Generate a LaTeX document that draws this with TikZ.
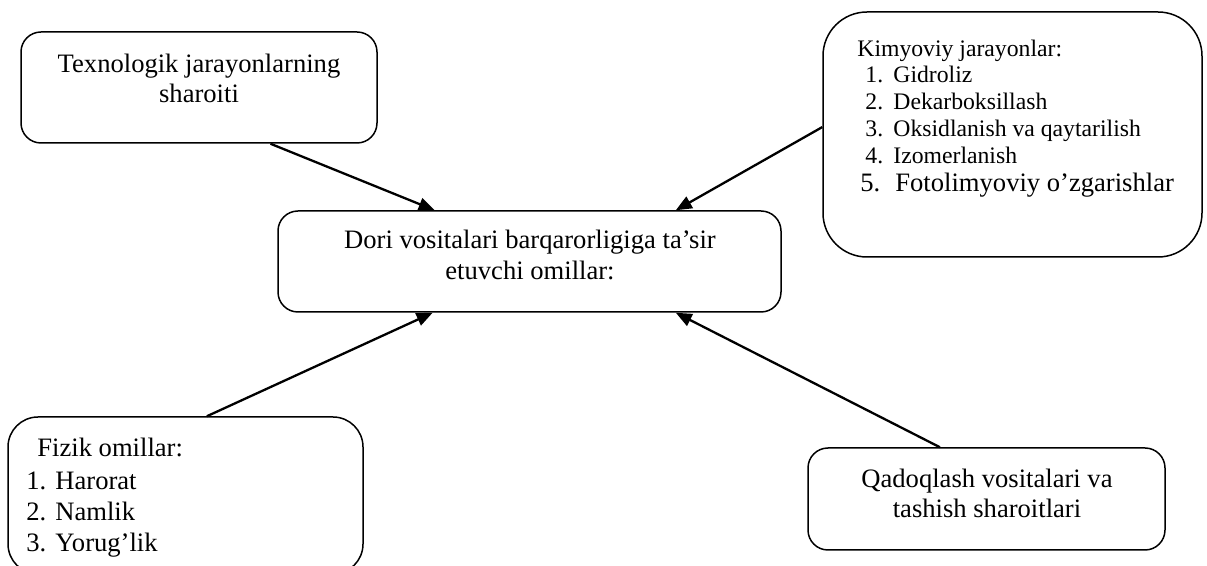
\documentclass[tikz,border=0pt]{standalone}
\usepackage{fontspec}
\setmainfont{Liberation Serif}
\usetikzlibrary{arrows.meta,calc,fit}
\begin{document}
\begin{tikzpicture}[x=0.5pt,y=-0.5pt,
 box/.style={draw, line width=0.75pt, inner sep=0pt},
 lbl/.style={anchor=base, inner sep=0pt, font=\fontsize{13.3}{16}\selectfont},
 lblw/.style={anchor=base west, inner sep=0pt, font=\fontsize{13.3}{16}\selectfont},
 sml/.style={anchor=base west, inner sep=0pt, font=\fontsize{11.85}{14}\selectfont},
 arr/.style={-{Triangle[length=8pt,width=6.5pt]}, line width=1.15pt}]
\useasboundingbox (0,0) rectangle (1207,566);
\clip (0,0) rectangle (1207,566);

% boxes
\node[box, rounded corners=10pt, fit={(21,32) (377,143)}] (tex) {};
\node[box, rounded corners=22pt, fit={(823,12) (1202,257)}] (kim) {};
\node[box, rounded corners=10pt, fit={(278,211) (781,312)}] (dori) {};
\node[box, rounded corners=15pt, fit={(8,417) (363,574)}] (fiz) {};
\node[box, rounded corners=10pt, fit={(808,448) (1165,550)}] (qad) {};

% texts
\node[lbl] (tex1) at (199,73) {Texnologik jarayonlarning};
\node[lbl] (tex2) at (199,103) {sharoiti};

\node[lbl] (dori1) at (530,249) {Dori vositalari barqarorligiga ta’sir};
\node[lbl] (dori2) at (530,280) {etuvchi omillar:};

\node[sml] (kim0) at (857,57) {Kimyoviy jarayonlar:};
\node[sml] (kim1) at (865,83) {\makebox[14pt][l]{1.}Gidroliz};
\node[sml] (kim2) at (865,110) {\makebox[14pt][l]{2.}Dekarboksillash};
\node[sml] (kim3) at (865,137) {\makebox[14pt][l]{3.}Oksidlanish va qaytarilish};
\node[sml] (kim4) at (865,164) {\makebox[14pt][l]{4.}Izomerlanish};
\node[lblw] (kim5) at (860,192) {\makebox[17.5pt][l]{5.}Fotolimyoviy o’zgarishlar};

\node[lblw] (fiz0) at (37,457) {Fizik omillar:};
\node[lblw] (fiz1) at (26,490) {\makebox[14.5pt][l]{1.}Harorat};
\node[lblw] (fiz2) at (26,521) {\makebox[14.5pt][l]{2.}Namlik};
\node[lblw] (fiz3) at (26,552) {\makebox[14.5pt][l]{3.}Yorug’lik};

\node[lbl] (qad1) at (987,488) {Qadoqlash vositalari va};
\node[lbl] (qad2) at (987,518) {tashish sharoitlari};

% connectors
\draw[arr] ($(tex.south west)!0.70!(tex.south east)$) -- ($(dori.north west)!0.312!(dori.north east)$);
\draw[arr] ($(kim.north west)!0.47!(kim.south west)$) -- ($(dori.north west)!0.79!(dori.north east)$);
\draw[arr] ($(fiz.north west)!0.56!(fiz.north east)$) -- ($(dori.south west)!0.308!(dori.south east)$);
\draw[arr] ($(qad.north west)!0.37!(qad.north east)$) -- ($(dori.south west)!0.79!(dori.south east)$);
\end{tikzpicture}
\end{document}
